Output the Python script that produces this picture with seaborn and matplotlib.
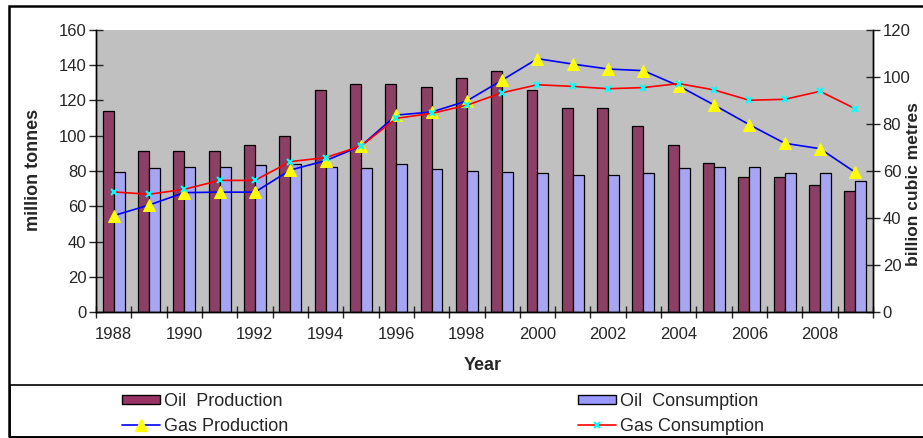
import numpy as np
import pandas as pd
import matplotlib
matplotlib.use("Agg")
import matplotlib.pyplot as plt
from matplotlib.patches import Patch, Rectangle
from matplotlib.lines import Line2D
from matplotlib.ticker import FixedLocator, NullFormatter, FixedFormatter
import seaborn as sns

# ---- data -------------------------------------------------------------
years = list(range(1988, 2010))
oil_production = [114, 91.5, 91.5, 91.5, 94.5, 100, 126, 129.5, 129.5, 127.5, 132.5,
                  137, 126, 116, 115.5, 105.5, 95, 84.5, 76.5, 76.5, 72, 68.5]
oil_consumption = [79.5, 81.7, 82.5, 82.5, 83.2, 84, 82.5, 81.5, 84, 81, 80.2,
                   79.4, 78.7, 77.9, 77.9, 78.7, 81.7, 82.5, 82.5, 78.7, 78.7, 74.2]
gas_production = [41, 45.5, 50.8, 51, 51, 60.4, 64.4, 70.6, 83.8, 85.1, 89.8,
                  98.7, 107.8, 105.5, 103.4, 102.7, 96.2, 88.1, 79.7, 71.8, 69.5, 59.4]
gas_consumption = [51.1, 50.1, 52.2, 56.0, 56.0, 64.0, 65.7, 70.6, 82.4, 84.5, 88.0,
                   93.3, 96.7, 96.0, 95.0, 95.5, 97.2, 94.5, 90.1, 90.5, 93.9, 86.5]
series_names = ["Oil  Production", "Oil  Consumption", "Gas Production", "Gas Consumption"]

# ---- style ------------------------------------------------------------
sns.set_style("white")
plt.rcParams["font.family"] = ["Liberation Sans", "DejaVu Sans"]

W, H = 923, 438
fig = plt.figure(figsize=(W / 100, H / 100), dpi=100)

def fx(px):
    return px / W

def fy(py):
    return 1 - py / H

ax = fig.add_axes([fx(96), fy(312), fx(873) - fx(96), fy(30) - fy(312)])
ax.set_facecolor("#C0C0C0")

oil = pd.DataFrame({
    "Year": years * 2,
    "value": oil_production + oil_consumption,
    "series": [series_names[0]] * len(years) + [series_names[1]] * len(years),
})
sns.barplot(data=oil, x="Year", y="value", hue="series",
            palette=["#993366", "#9999FF"], width=0.62, gap=0,
            edgecolor="black", linewidth=0.9, errorbar=None,
            legend=False, ax=ax)

ax2 = ax.twinx()
pos = np.arange(len(years))
sns.lineplot(x=pos, y=gas_production, ax=ax2, color="#0000FF", linewidth=1.2,
             marker="^", markersize=8, markerfacecolor="#FFFF00",
             markeredgecolor="#FFFF00", zorder=3)
sns.lineplot(x=pos, y=gas_consumption, ax=ax2, color="#FF0000", linewidth=1.2,
             marker="x", markersize=5, markeredgewidth=1.5,
             markeredgecolor="#00FFFF", zorder=3)

n = len(years)
for a in (ax, ax2):
    a.set_xlim(-0.5, n - 0.5)
    a.spines["top"].set_visible(False)
    for s in ("left", "right", "bottom"):
        a.spines[s].set_color("black")
        a.spines[s].set_linewidth(1.0)

ax.set_ylim(0, 160)
ax.set_yticks(np.arange(0, 161, 20))
ax2.set_ylim(0, 120)
ax2.set_yticks(np.arange(0, 121, 20))

# category boundaries carry tick marks, every other year carries a label
ax.xaxis.set_major_locator(FixedLocator(np.arange(-0.5, n, 1.0)))
ax.xaxis.set_major_formatter(NullFormatter())
label_pos = np.arange(0, n, 2)
ax.xaxis.set_minor_locator(FixedLocator(label_pos))
ax.xaxis.set_minor_formatter(FixedFormatter([str(years[i]) for i in label_pos]))
ax.tick_params(axis="x", which="major", direction="inout", length=9, width=1, bottom=True)
ax.tick_params(axis="x", which="minor", length=0, pad=11, labelsize=12)
ax.tick_params(axis="y", direction="inout", length=10, width=1, labelsize=12, pad=2, left=True)
ax2.tick_params(axis="y", direction="inout", length=10, width=1, labelsize=12, pad=2, right=True)

ax.set_xlabel("")
ax.set_ylabel("")
ax2.set_ylabel("")
fig.text(fx(483), fy(366), "Year", ha="center", va="center",
         fontsize=13, fontweight="bold")
fig.text(fx(33), fy(170), "million tonnes", ha="center", va="center",
         rotation=90, fontsize=13, fontweight="bold")
fig.text(fx(913), fy(184), "billion cubic metres", ha="center", va="center",
         rotation=90, fontsize=12.5, fontweight="bold")

# outer chart frame and legend box
fig.patches.append(Rectangle((fx(9), fy(437)), fx(960) - fx(9), fy(6) - fy(437),
                             transform=fig.transFigure, fill=False,
                             edgecolor="black", linewidth=1.8))
fig.patches.append(Rectangle((fx(10), fy(437)), fx(960) - fx(10), fy(385) - fy(437),
                             transform=fig.transFigure, fill=False,
                             edgecolor="black", linewidth=1.2))

h_oil_p = Patch(facecolor="#993366", edgecolor="black", linewidth=1)
h_oil_c = Patch(facecolor="#9999FF", edgecolor="black", linewidth=1)
h_gas_p = Line2D([], [], color="#0000FF", linewidth=1.2, marker="^", markersize=8,
                 markerfacecolor="#FFFF00", markeredgecolor="#FFFF00")
h_gas_c = Line2D([], [], color="#FF0000", linewidth=1.2, marker="x", markersize=5,
                 markeredgewidth=1.5, markeredgecolor="#00FFFF")

common = dict(loc="upper left", frameon=False, fontsize=13, borderpad=0,
              borderaxespad=0, handlelength=2.1, handleheight=0.45,
              handletextpad=0.25, labelspacing=0.45, numpoints=1)
leg1 = fig.legend([h_oil_p, h_gas_p], [series_names[0], series_names[2]],
                  bbox_to_anchor=(fx(122), fy(393)), **common)
leg2 = fig.legend([h_oil_c, h_gas_c], [series_names[1], series_names[3]],
                  bbox_to_anchor=(fx(578), fy(393)), **common)

fig.savefig("out.png", dpi=100)
